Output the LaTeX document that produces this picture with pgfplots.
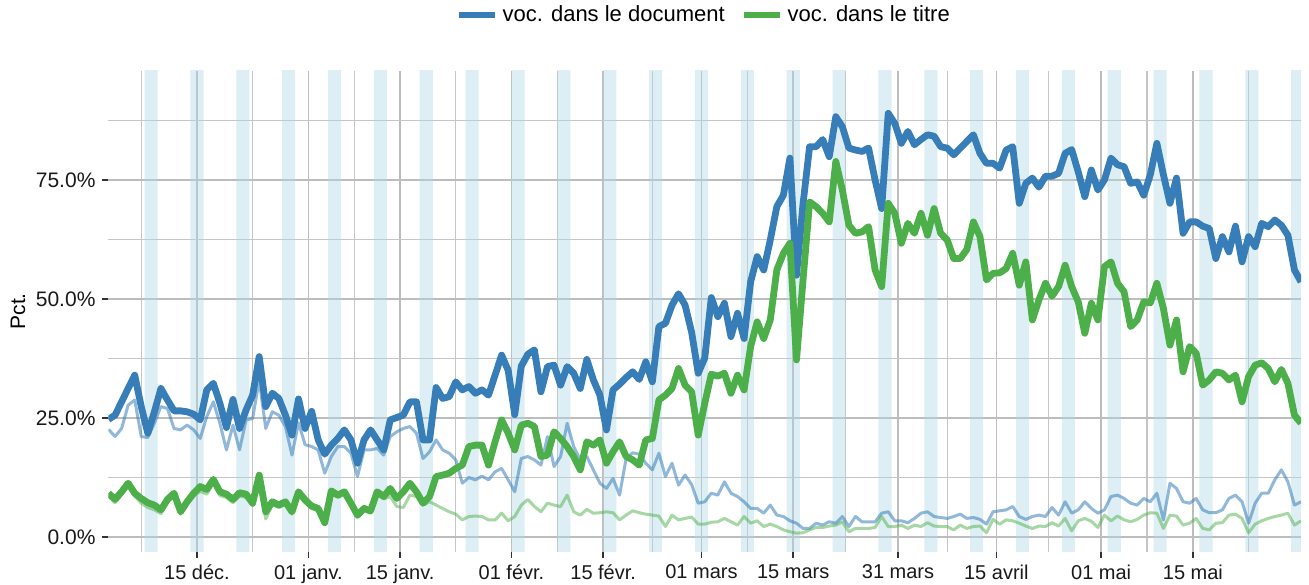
\documentclass[border=0pt]{standalone}
\usepackage{pgfplots}
\pgfplotsset{compat=1.18}
\usepackage{pgfplotstable}
\usepackage{fontspec}
\setmainfont{Liberation Sans}
\definecolor{cblue}{HTML}{377EB8}
\definecolor{cgreen}{HTML}{4DAF4A}
\definecolor{bandc}{HTML}{ADD8E6}
\definecolor{gridmaj}{HTML}{BDBDBD}
\definecolor{gridmin}{HTML}{C6C6C6}

\pgfplotstableread{
i doc titre doc2 titre2
0 24.7 9.2 22.6 8.6
1 25.6 7.9 21.1 7.2
2 28.4 9.5 22.8 8.9
3 31.2 11.3 27.7 10.7
4 34.0 9.2 28.8 8.6
5 27.4 8.1 21.1 7.1
6 21.8 7.2 20.9 6.2
7 26.3 6.7 23.9 5.7
8 31.2 5.7 27.4 4.9
9 28.8 7.9 27.0 7.3
10 26.5 9.2 22.8 8.6
11 26.5 5.3 22.5 4.8
12 26.3 7.4 23.5 6.8
13 25.8 9.2 22.5 8.6
14 24.6 10.6 20.7 9.6
15 30.9 10.0 25.3 9.0
16 32.3 12.1 28.4 11.3
17 28.1 9.5 23.9 8.7
18 23.0 9.0 18.3 8.3
19 28.9 7.9 23.5 7.2
20 22.8 9.3 18.3 8.6
21 26.7 9.0 24.6 8.3
22 29.8 7.1 24.9 6.6
23 37.9 13.0 33.0 12.4
24 27.4 5.3 22.8 3.8
25 30.2 7.4 26.3 6.8
26 29.1 6.7 25.6 6.2
27 25.6 7.4 23.2 6.8
28 21.4 5.3 17.2 4.8
29 29.0 9.5 24.0 9.0
30 22.8 7.8 19.4 7.2
31 26.4 6.5 19.0 6.0
32 20.4 6.0 18.3 5.5
33 17.4 3.0 13.4 2.6
34 19.3 9.7 16.9 9.1
35 20.7 8.8 19.0 8.3
36 22.5 9.5 19.0 9.0
37 20.4 7.1 17.6 6.6
38 15.5 4.6 12.7 4.1
39 20.4 6.0 18.3 5.5
40 22.5 5.5 18.3 5.0
41 20.4 9.5 18.6 9.0
42 18.3 8.5 17.2 8.0
43 24.6 10.2 21.1 8.5
44 25.1 8.1 22.1 6.4
45 25.6 9.5 22.8 6.2
46 28.4 11.3 23.2 8.8
47 28.4 9.5 21.8 8.5
48 20.4 7.1 16.5 6.7
49 20.4 8.5 17.9 7.4
50 31.4 12.7 20.4 6.7
51 29.1 13.0 18.3 6.0
52 29.5 13.4 17.6 5.3
53 32.6 14.4 16.2 4.8
54 30.9 15.1 11.3 3.6
55 31.6 19.0 12.5 4.3
56 30.2 19.3 12.0 4.4
57 30.9 19.3 12.8 4.3
58 29.8 15.1 12.0 3.6
59 34.0 20.0 13.7 3.6
60 38.2 24.6 14.4 5.0
61 35.0 21.8 12.0 3.4
62 25.7 18.3 9.5 4.3
63 35.9 23.5 16.5 6.7
64 38.4 23.9 16.9 7.9
65 39.3 23.2 16.2 6.4
66 30.5 16.9 15.1 5.3
67 35.8 17.2 21.1 7.1
68 36.1 22.1 14.8 6.7
69 31.9 20.7 16.9 6.4
70 35.8 19.0 23.9 8.8
71 34.4 16.9 19.0 5.3
72 31.2 14.1 16.2 4.6
73 37.3 20.0 16.9 5.8
74 33.0 19.3 14.1 5.0
75 29.8 20.4 11.3 5.1
76 22.5 15.5 10.2 5.3
77 30.9 17.9 12.3 5.1
78 32.1 20.0 8.8 3.6
79 33.5 16.9 16.5 4.6
80 34.7 16.2 17.7 5.5
81 33.1 15.1 17.4 5.1
82 36.8 20.4 15.5 4.8
83 32.6 20.7 14.1 4.6
84 44.2 28.8 17.6 4.4
85 44.9 29.8 12.7 2.2
86 48.7 31.2 15.5 4.6
87 51.1 35.4 10.9 3.6
88 48.7 31.9 13.0 3.9
89 43.0 30.5 11.0 4.2
90 34.4 21.4 7.1 2.7
91 37.6 28.1 7.4 2.7
92 50.3 34.2 9.2 3.1
93 46.3 33.8 8.8 3.2
94 49.1 34.4 11.6 3.9
95 42.1 30.2 9.2 3.2
96 47.0 34.0 8.5 2.5
97 41.7 30.9 7.4 4.3
98 53.6 40.0 6.0 2.9
99 58.9 45.2 6.0 3.4
100 56.1 41.7 5.0 2.2
101 62.4 45.6 6.7 2.7
102 69.4 56.1 4.6 2.2
103 71.8 59.6 4.3 1.5
104 79.6 61.7 3.4 1.1
105 55.0 37.2 2.9 0.8
106 70.0 54.0 1.8 0.9
107 82.0 70.4 1.8 1.5
108 82.0 69.4 2.9 2.0
109 83.5 68.0 2.5 2.0
110 79.9 66.2 3.2 2.3
111 88.3 78.9 2.9 2.5
112 86.2 72.9 4.3 3.2
113 81.7 65.5 2.2 1.1
114 81.3 63.8 4.3 1.8
115 81.0 64.1 3.2 1.8
116 81.7 65.2 3.2 1.8
117 75.0 56.1 3.2 2.0
118 69.0 52.6 5.0 4.3
119 89.0 70.1 5.3 2.2
120 86.9 68.0 3.4 2.2
121 82.7 61.7 3.4 2.5
122 85.2 65.9 3.0 1.8
123 82.4 63.8 3.9 2.5
124 83.5 68.0 5.0 2.2
125 84.5 63.4 5.3 3.0
126 84.2 69.0 4.3 2.3
127 82.0 63.8 4.1 2.2
128 81.7 62.4 3.9 2.2
129 80.3 58.5 4.3 1.5
130 81.7 58.5 4.8 2.5
131 83.1 60.4 3.9 1.8
132 84.5 66.2 4.1 2.2
133 80.6 63.1 3.7 2.3
134 78.5 54.0 2.7 0.9
135 78.5 55.4 5.3 3.7
136 77.5 55.5 5.5 2.7
137 81.3 56.4 5.7 3.6
138 82.0 59.6 6.4 3.4
139 70.1 52.9 4.3 2.9
140 74.3 57.8 3.7 2.3
141 75.4 45.6 4.3 1.8
142 73.5 49.8 4.6 2.3
143 75.8 53.3 4.3 2.2
144 75.8 50.6 6.2 3.0
145 76.4 52.6 4.6 2.3
146 80.6 57.1 7.4 3.9
147 81.4 52.6 5.0 1.3
148 76.7 49.4 5.7 3.4
149 71.5 42.8 7.4 3.9
150 77.1 49.1 6.0 3.3
151 72.9 45.6 5.0 2.0
152 75.0 56.8 5.7 4.6
153 79.6 57.8 8.5 3.4
154 78.2 53.3 8.8 4.4
155 77.8 51.5 8.1 3.6
156 74.3 44.2 7.1 3.2
157 74.6 45.6 6.7 3.7
158 71.8 49.4 8.1 4.6
159 76.1 49.2 7.4 5.1
160 82.7 53.3 9.2 5.0
161 76.1 48.0 3.6 1.8
162 70.1 40.3 11.3 4.6
163 75.4 45.6 10.2 4.4
164 63.8 34.7 7.4 2.5
165 66.2 40.0 7.1 2.9
166 66.2 38.6 8.1 3.9
167 65.3 31.9 5.7 1.8
168 64.8 33.0 5.1 1.5
169 58.5 34.7 5.1 2.9
170 63.1 34.4 5.7 3.0
171 59.9 33.0 8.1 4.6
172 65.3 34.0 8.8 4.8
173 57.8 28.4 7.4 3.9
174 63.1 33.7 2.9 0.9
175 61.0 36.1 7.1 2.7
176 65.9 36.6 9.2 3.4
177 65.2 35.4 9.2 3.9
178 66.6 32.6 12.0 4.3
179 65.5 35.2 14.1 4.6
180 63.4 32.3 11.6 5.0
181 56.1 25.6 6.7 2.5
182 53.6 23.9 7.4 3.4
}\data

\begin{document}
\begin{tikzpicture}
\path[use as bounding box] (-54.25pt,-16.15pt) rectangle (600.25pt,275.85pt);
\begin{axis}[
  at={(0,0)}, anchor=south west,
  scale only axis, width=596.25pt, height=240.35pt,
  xmin=0, xmax=182, ymin=-3.09, ymax=97.9,
  axis line style={draw=none},
  xtick={13.5,30.5,44.5,61.5,75.5,90.5,104.5,120.5,135.5,151.5,165.5},
  xticklabels={15 déc.,01 janv.,15 janv.,01 févr.,15 févr.,01 mars,15 mars,31 mars,15 avril,01 mai,15 mai},
  minor xtick={5,22,37.5,53,68.5,83,97.5,112.5,128,143.5,158.5,174},
  ytick={0,25,50,75},
  yticklabels={0.0\%,25.0\%,50.0\%,75.0\%},
  minor ytick={12.5,37.5,62.5,87.5},
  grid=both,
  major grid style={draw=gridmaj, line width=0.8pt},
  minor grid style={draw=gridmin, line width=0.55pt},
  xtick pos=left, ytick pos=left,
  tick align=outside,
  major tick length=3pt,
  minor tick length=0pt,
  tick style={draw=black!80, line width=0.8pt},
  xticklabel style={font=\fontsize{10}{12}\selectfont, text=black!90},
  yticklabel style={font=\fontsize{10.5}{12}\selectfont, text=black!90},
  ylabel={Pct.},
  ylabel style={at={(axis description cs:0,0.5)}, anchor=center, yshift=45.25pt, font=\fontsize{10.5}{12}\selectfont},
  legend columns=2,
  legend style={draw=none, fill=none, at={(axis description cs:0.5,1)}, anchor=center, yshift=28pt,
    font=\fontsize{11}{13}\selectfont, /tikz/every even column/.append style={column sep=6pt}},
  legend image code/.code={\draw[#1] (0pt,0pt) -- (18pt,0pt);},
  clip=true,
]
\addplot[draw=none, fill=bandc, fill opacity=0.42, forget plot] coordinates {
(5.5,-10) (5.5,110) (7.5,110) (7.5,-10)
(12.5,-10) (12.5,110) (14.5,110) (14.5,-10)
(19.5,-10) (19.5,110) (21.5,110) (21.5,-10)
(26.5,-10) (26.5,110) (28.5,110) (28.5,-10)
(33.5,-10) (33.5,110) (35.5,110) (35.5,-10)
(40.5,-10) (40.5,110) (42.5,110) (42.5,-10)
(47.5,-10) (47.5,110) (49.5,110) (49.5,-10)
(54.5,-10) (54.5,110) (56.5,110) (56.5,-10)
(61.5,-10) (61.5,110) (63.5,110) (63.5,-10)
(68.5,-10) (68.5,110) (70.5,110) (70.5,-10)
(75.5,-10) (75.5,110) (77.5,110) (77.5,-10)
(82.5,-10) (82.5,110) (84.5,110) (84.5,-10)
(89.5,-10) (89.5,110) (91.5,110) (91.5,-10)
(96.5,-10) (96.5,110) (98.5,110) (98.5,-10)
(103.5,-10) (103.5,110) (105.5,110) (105.5,-10)
(110.5,-10) (110.5,110) (112.5,110) (112.5,-10)
(117.5,-10) (117.5,110) (119.5,110) (119.5,-10)
(124.5,-10) (124.5,110) (126.5,110) (126.5,-10)
(131.5,-10) (131.5,110) (133.5,110) (133.5,-10)
(138.5,-10) (138.5,110) (140.5,110) (140.5,-10)
(145.5,-10) (145.5,110) (147.5,110) (147.5,-10)
(152.5,-10) (152.5,110) (154.5,110) (154.5,-10)
(159.5,-10) (159.5,110) (161.5,110) (161.5,-10)
(166.5,-10) (166.5,110) (168.5,110) (168.5,-10)
(173.5,-10) (173.5,110) (175.5,110) (175.5,-10)
(180.5,-10) (180.5,110) (182.5,110) (182.5,-10)
} --cycle;
\addplot[cblue, draw opacity=0.55, line width=1.5pt, line join=round, forget plot] table[x=i, y=doc2] {\data};
\addplot[cgreen, draw opacity=0.5, line width=1.5pt, line join=round, forget plot] table[x=i, y=titre2] {\data};
\addplot[cblue, line width=3.4pt, line join=round] table[x=i, y=doc] {\data};
\addlegendentry{voc. dans le document}
\addplot[cgreen, line width=3.4pt, line join=round] table[x=i, y=titre] {\data};
\addlegendentry{voc. dans le titre}
\end{axis}
\end{tikzpicture}
\end{document}
